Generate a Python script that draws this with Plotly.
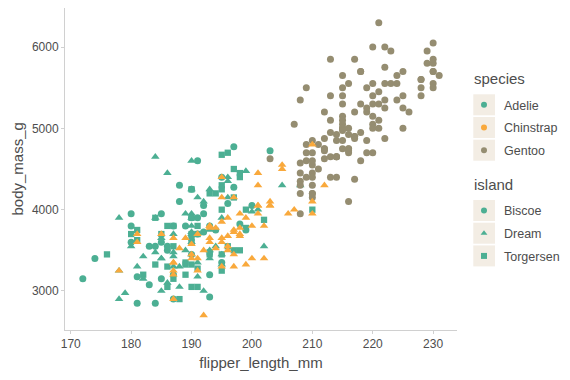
import plotly.graph_objects as go

# ---------------- data (Palmer penguins, rows in dataset order) ----------------
adelie_flipper = [181,186,195,193,190,181,195,193,190,186,180,182,191,198,185,195,197,184,194,
                  174,180,189,185,180,187,183,187,172,180,
                  178,178,188,184,195,196,190,180,181,184,182,195,186,196,185,190,182,179,190,191,
                  186,188,190,200,187,191,186,193,181,194,185,195,185,192,184,192,195,188,
                  190,198,190,190,196,197,190,195,191,184,187,195,189,196,187,193,
                  191,194,190,189,189,190,202,205,185,186,187,208,190,196,178,192,
                  192,203,183,190,193,184,199,190,181,197,198,191,193,197,191,196,
                  188,199,189,189,187,198,176,202,186,199,191,195,191,210,190,197,
                  193,199,187,190,191,200,185,193,193,187,188,190,192,185,190,184,195,193,187,201]
adelie_mass = [3750,3800,3250,3450,3650,3625,4675,3475,4250,3300,3700,3200,3800,4400,3700,3450,4500,3325,4200,
               3400,3600,3800,3950,3800,3800,3550,3200,3150,3950,
               3250,3900,3300,3900,3325,4150,3950,3550,3300,4650,3150,3900,3100,4400,3000,4600,3425,2975,3450,4150,
               3500,4300,3450,4050,2900,3700,3550,3800,2850,3750,3150,4400,3600,4050,2850,3950,3350,4100,
               3050,4450,3600,3900,3550,4150,3700,4250,3700,3900,3550,4000,3200,4700,3800,4200,
               3350,3550,3800,3500,3950,3600,3550,4300,3400,4450,3300,4300,3700,4350,2900,4100,
               3725,4725,3075,4250,2925,3550,3750,3900,3175,4775,3825,4600,3200,4275,3900,4075,
               2900,3775,3350,3325,3150,3500,3450,3875,3050,4000,3275,4300,3050,4000,3325,3500,
               3500,4475,3425,3900,3175,3975,3400,4250,3400,3475,3050,3725,3000,3650,4250,3475,3450,3750,3700,4000]
adelie_island = (["Torgersen"] * 19 + ["Biscoe"] * 10 + ["Dream"] * 20 + ["Biscoe"] * 18 +
                 ["Torgersen"] * 16 + ["Dream"] * 16 + ["Biscoe"] * 16 + ["Torgersen"] * 16 + ["Dream"] * 20)

gentoo_flipper = [211,230,210,218,215,210,211,219,209,215,214,216,214,213,210,217,210,221,209,222,
                  218,215,213,215,215,215,216,215,210,220,222,209,207,230,220,220,213,219,208,208,
                  208,225,210,216,222,217,210,225,213,215,210,220,210,225,217,220,208,220,208,224,
                  208,221,214,231,219,230,214,229,220,223,216,221,221,217,216,230,209,220,215,223,
                  212,221,212,224,212,228,218,218,212,230,218,228,212,224,214,226,216,222,203,225,
                  219,228,215,228,216,215,210,219,208,209,216,229,213,230,217,230,217,222,214,215,
                  222,212,213]
gentoo_mass = [4500,5700,4450,5700,5400,4550,4800,5200,4400,5150,4650,5550,4650,5850,4200,5850,4150,6300,4800,5350,
               5700,5000,4400,5050,5000,5100,4100,5650,4600,5550,5250,4700,5050,6050,5150,5400,4950,5250,4350,5350,
               3950,5700,4300,4750,5550,4900,4200,5400,5100,5300,4850,5300,4400,5000,4900,5050,4300,5000,4450,5550,
               4200,5300,4400,5650,4700,5700,4650,5800,4700,5550,4750,5000,5100,5200,4700,5800,4600,6000,4750,5950,
               4625,5450,4725,5350,4750,5600,4600,5300,4875,5550,4950,5400,4750,5650,4850,5200,4925,4875,4625,5250,
               4850,5600,4975,5500,4725,5500,4700,5500,4575,5500,5000,5950,4650,5500,4375,5850,4875,6000,4925,4850,
               5750,5200,5400]
gentoo_island = ["Biscoe"] * len(gentoo_flipper)

chinstrap_flipper = [192,196,193,188,197,198,178,197,195,198,193,194,185,201,190,201,197,181,190,195,
                     181,191,187,193,195,197,200,200,191,205,187,201,187,203,195,199,195,210,192,205,
                     210,187,196,196,196,201,190,212,187,198,199,201,193,203,187,197,191,203,202,194,
                     206,189,195,207,202,193,210,198]
chinstrap_mass = [3500,3900,3650,3525,3725,3950,3250,3750,4150,3700,3800,3775,3700,4050,3575,4050,3300,3700,3450,4400,
                  3600,3400,2900,3800,3300,4150,3400,3800,3700,4550,3200,4300,3350,4100,3600,3900,3850,4800,2700,4500,
                  3950,3650,3550,3500,3675,4450,3400,4300,3250,3675,3325,3950,3600,4050,3350,3450,3250,4050,3800,3525,
                  3950,3650,3650,4000,3400,3775,4100,3775]
chinstrap_island = ["Dream"] * len(chinstrap_flipper)

species_names = ["Adelie", "Chinstrap", "Gentoo"]
island_names = ["Biscoe", "Dream", "Torgersen"]
x_ticks = [170, 180, 190, 200, 210, 220, 230]
y_ticks = [3000, 4000, 5000, 6000]

# ---------------- styling ----------------
species_colors = {"Adelie": "#4caf93", "Chinstrap": "#f9a93c", "Gentoo": "#958d71"}
island_symbols = {"Biscoe": "circle", "Dream": "triangle-up", "Torgersen": "square"}
island_sizes = {"Biscoe": 7, "Dream": 7.5, "Torgersen": 6.3}
FONT = "Liberation Sans, Arial, sans-serif"
TXT = "#4d4d4d"
AXIS = "#d0d0d0"
KEY_BG = "#f3ede4"

W, H = 570, 380
ML, MR, MT, MB = 65, 113, 8, 50

fig = go.Figure()

# data traces in dataset order: Adelie, Gentoo, Chinstrap
for sp, xs, ys, isl in [("Adelie", adelie_flipper, adelie_mass, adelie_island),
                        ("Gentoo", gentoo_flipper, gentoo_mass, gentoo_island),
                        ("Chinstrap", chinstrap_flipper, chinstrap_mass, chinstrap_island)]:
    fig.add_trace(go.Scatter(
        x=xs, y=ys, mode="markers", name=sp, showlegend=False,
        marker=dict(color=species_colors[sp], opacity=1,
                    symbol=[island_symbols[i] for i in isl],
                    size=[island_sizes[i] for i in isl],
                    line=dict(width=0)),
        hovertemplate=sp + "<br>%{x}, %{y}<extra></extra>",
    ))

# legend entries
for k, sp in enumerate(species_names):
    fig.add_trace(go.Scatter(x=[None], y=[None], mode="markers", name=sp, legend="legend",
                             legendgroup="s" + str(k),
                             marker=dict(color=species_colors[sp], symbol="circle", size=6, opacity=1)))
for k, isl in enumerate(island_names):
    fig.add_trace(go.Scatter(x=[None], y=[None], mode="markers", name=isl, legend="legend2",
                             legendgroup="i" + str(k),
                             marker=dict(color=species_colors["Adelie"], symbol=island_symbols[isl],
                                         size=6, opacity=1)))

pw = W - ML - MR
ph = H - MT - MB


def px_x(p):
    return (p - ML) / pw


def px_y(p):
    return (H - MB - p) / ph


# beige key backgrounds
shapes = []
for top in [94.3, 117.0, 139.7, 200.0, 222.7, 245.4]:
    shapes.append(dict(type="rect", xref="paper", yref="paper",
                       x0=px_x(473.3), x1=px_x(495), y0=px_y(top + 21), y1=px_y(top),
                       fillcolor=KEY_BG, line=dict(width=0), layer="below"))

# legend titles and y-axis title
annotations = [
    dict(text="species", xref="paper", yref="paper", x=px_x(472), y=px_y(78.5),
         xanchor="left", yanchor="middle", showarrow=False,
         font=dict(family=FONT, size=15, color=TXT)),
    dict(text="island", xref="paper", yref="paper", x=px_x(472), y=px_y(184.5),
         xanchor="left", yanchor="middle", showarrow=False,
         font=dict(family=FONT, size=15, color=TXT)),
    dict(text="body_mass_g", xref="paper", yref="paper", x=px_x(16.5), y=0.5,
         xanchor="center", yanchor="middle", textangle=-90, showarrow=False,
         font=dict(family=FONT, size=15, color=TXT)),
]

legend_common = dict(
    xanchor="left", yanchor="top", bgcolor="rgba(0,0,0,0)", borderwidth=0,
    font=dict(family=FONT, size=12.5, color=TXT), tracegroupgap=3.45,
    itemsizing="trace",
)

fig.update_layout(
    width=W, height=H,
    margin=dict(l=ML, r=MR, t=MT, b=MB, pad=0, autoexpand=False),
    paper_bgcolor="white", plot_bgcolor="white",
    font=dict(family=FONT, color=TXT),
    shapes=shapes,
    annotations=annotations,
    legend=dict(x=px_x(464), y=px_y(90.1), **legend_common),
    legend2=dict(x=px_x(464), y=px_y(195.9), **legend_common),
    xaxis=dict(range=[169.05, 233.95], tickvals=x_ticks, ticktext=[str(v) for v in x_ticks],
               showgrid=False, zeroline=False, showline=True, linecolor=AXIS, linewidth=1,
               ticks="outside", ticklen=3, tickcolor=AXIS, tickfont=dict(size=12, color=TXT),
               automargin=False,
               title=dict(text="flipper_length_mm", font=dict(size=15, color=TXT), standoff=7)),
    yaxis=dict(range=[2520, 6480], tickvals=y_ticks, ticktext=[str(v) for v in y_ticks],
               showgrid=False, zeroline=False, showline=True, linecolor=AXIS, linewidth=1,
               ticks="outside", ticklen=3, tickcolor=AXIS, tickfont=dict(size=12, color=TXT),
               automargin=False),
)

fig.write_html("out.html", config={"displayModeBar": False},
               post_script="document.body.style.margin='0px';")
